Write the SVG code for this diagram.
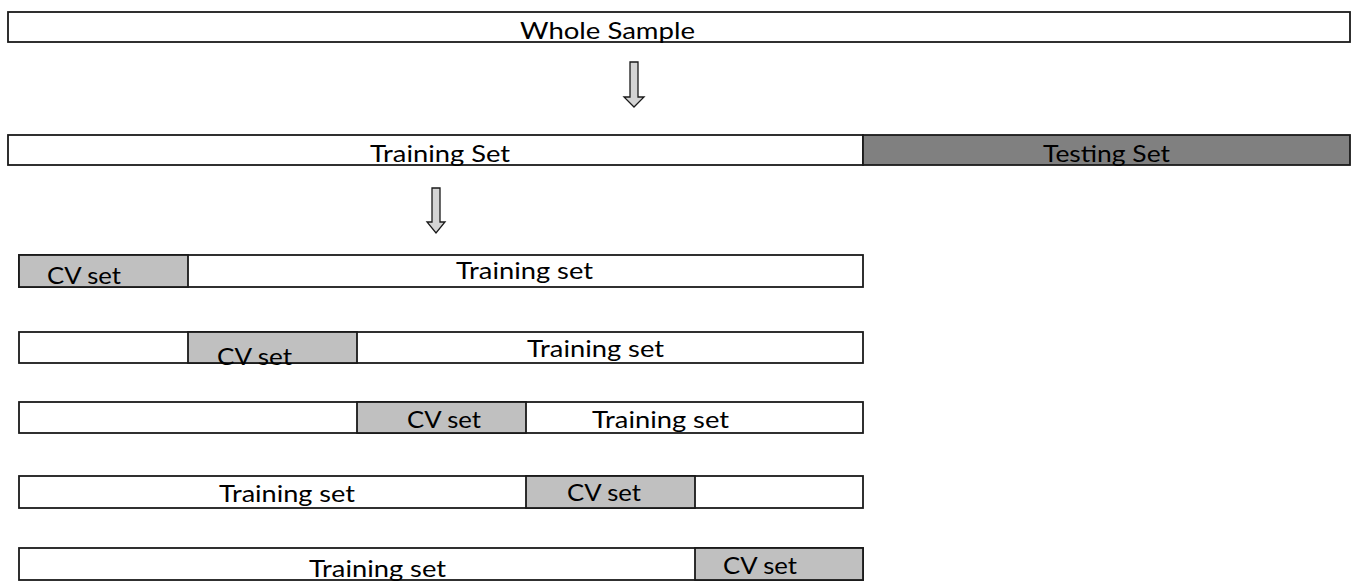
<svg xmlns="http://www.w3.org/2000/svg" width="1353" height="581" viewBox="0 0 1353 581">
<style>
.box{fill:#ffffff;stroke:#1a1a1a;stroke-width:1.8}
.cv{fill:#c0c0c0;stroke:#1a1a1a;stroke-width:1.8}
.test{fill:#808080;stroke:#1a1a1a;stroke-width:1.8}
.arrow{fill:#d4d4d4;stroke:#1a1a1a;stroke-width:1.3;stroke-linejoin:miter}
text{font-family:Lato,"Open Sans","Liberation Sans",sans-serif;font-size:23px;fill:#000}
</style>
<g id="whole-sample">
<rect class="box" x="8" y="12" width="1342" height="30"/>
<text x="520" y="39" textLength="175" lengthAdjust="spacingAndGlyphs">Whole Sample</text>
</g>
<g id="connectors">
<path class="arrow" d="M630,62 H638 V97 H644 L634,107 L624,97 H630 Z"/>
<path class="arrow" d="M432,188 H440 V222 H445 L436,233 L427,222 H432 Z"/>
</g>
<g id="training-set-top">
<rect class="box" x="8" y="135" width="855" height="30"/>
<text x="370" y="162" textLength="140" lengthAdjust="spacingAndGlyphs">Training Set</text>
</g>
<g id="testing-set">
<rect class="test" x="863" y="135" width="487" height="30"/>
<text x="1043" y="162" textLength="127" lengthAdjust="spacingAndGlyphs">Testing Set</text>
</g>
<g id="fold1">
<rect class="box" x="19" y="255" width="844" height="32"/>
<rect class="cv" x="19" y="255" width="169" height="32"/>
<text x="47" y="284" textLength="74" lengthAdjust="spacingAndGlyphs">CV set</text>
<text x="456" y="279" textLength="137" lengthAdjust="spacingAndGlyphs">Training set</text>
</g>
<g id="fold2">
<rect class="box" x="19" y="332" width="844" height="31"/>
<rect class="cv" x="188" y="332" width="169" height="31"/>
<text x="217" y="365" textLength="75" lengthAdjust="spacingAndGlyphs">CV set</text>
<text x="527" y="357" textLength="137" lengthAdjust="spacingAndGlyphs">Training set</text>
</g>
<g id="fold3">
<rect class="box" x="19" y="402" width="844" height="31"/>
<rect class="cv" x="357" y="402" width="169" height="31"/>
<text x="407" y="428" textLength="74" lengthAdjust="spacingAndGlyphs">CV set</text>
<text x="592" y="428" textLength="137" lengthAdjust="spacingAndGlyphs">Training set</text>
</g>
<g id="fold4">
<rect class="box" x="19" y="476" width="844" height="32"/>
<rect class="cv" x="526" y="476" width="169" height="32"/>
<text x="567" y="501" textLength="74" lengthAdjust="spacingAndGlyphs">CV set</text>
<text x="219" y="502" textLength="136" lengthAdjust="spacingAndGlyphs">Training set</text>
</g>
<g id="fold5">
<rect class="box" x="19" y="548" width="844" height="32"/>
<rect class="cv" x="695" y="548" width="168" height="32"/>
<text x="723" y="574" textLength="74" lengthAdjust="spacingAndGlyphs">CV set</text>
<text x="309" y="577" textLength="137" lengthAdjust="spacingAndGlyphs">Training set</text>
</g>
</svg>
